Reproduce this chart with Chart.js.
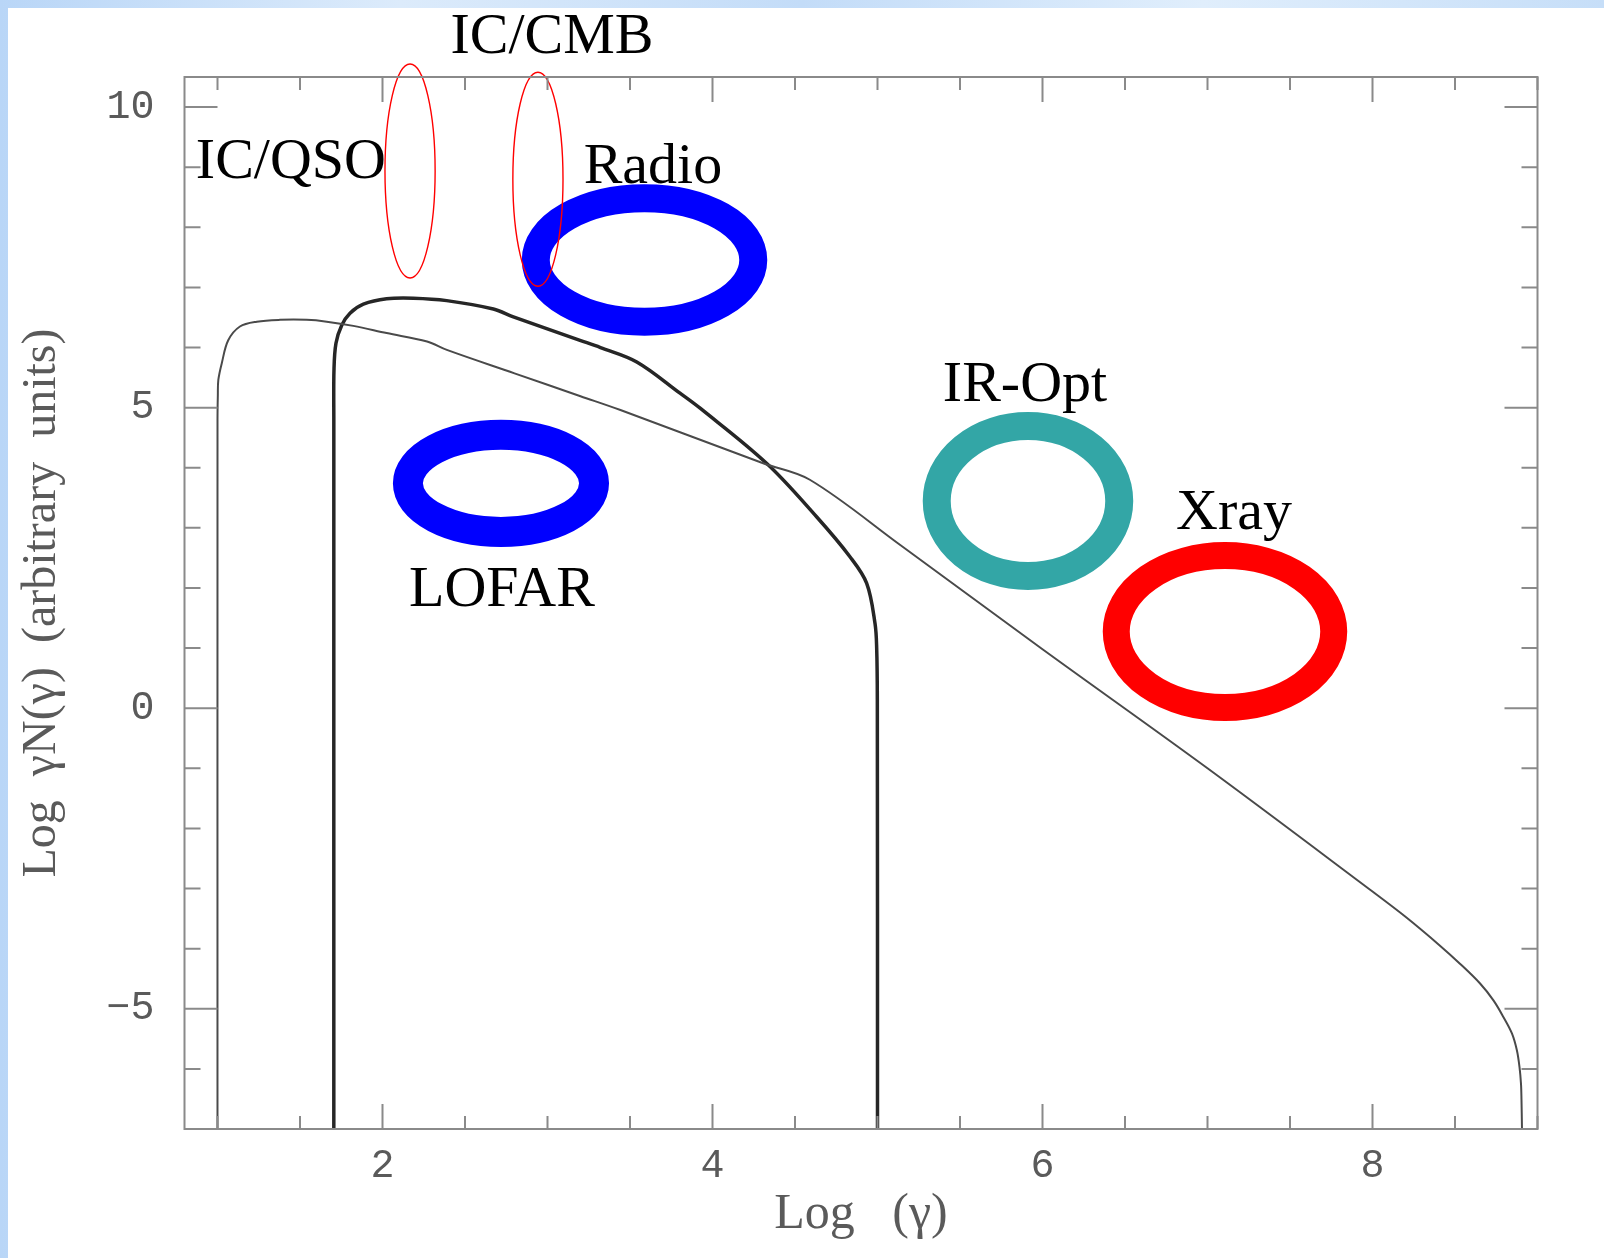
<!DOCTYPE html>
<html><head><meta charset="utf-8">
<script src="https://cdn.jsdelivr.net/npm/chart.js@4.4.1/dist/chart.umd.min.js"></script>
<style>
html,body{margin:0;padding:0;width:1604px;height:1258px;overflow:hidden;}
body{background:linear-gradient(90deg,#b9d6f7 0%,#dcebfb 25%,#c3dcf8 50%,#e0eefc 75%,#c6def8 100%);}
#paper{position:absolute;left:8px;top:8px;right:0;bottom:0;background:#fff;}
#wrap{position:absolute;left:0;top:0;width:1604px;height:1258px;}
</style></head>
<body><div id="paper"></div><div id="wrap"><canvas id="c" width="1604" height="1258"></canvas></div>
<script>
// ---- data ----
const curveAx = [1.0, 1.0, 1.002, 1.005, 1.026, 1.065, 1.136, 1.238, 1.379, 1.54, 1.662, 1.823, 2.025, 2.27, 2.39, 2.8, 3.2, 3.442, 4.311, 4.59, 5.14, 6.0, 7.0, 8.0, 8.2, 8.409, 8.53, 8.652, 8.733, 8.794, 8.845, 8.875, 8.891, 8.900, 8.903, 8.906];
const curveAy = [-7.0, 4.8, 5.2, 5.46, 5.74, 6.12, 6.35, 6.43, 6.46, 6.46, 6.43, 6.36, 6.24, 6.10, 5.96, 5.57, 5.19, 4.96, 4.07, 3.80, 2.71, 0.98, -1.0, -3.05, -3.47, -3.95, -4.25, -4.58, -4.86, -5.14, -5.41, -5.69, -5.97, -6.25, -6.52, -7.0];
const curveBx = [1.705, 1.705, 1.706, 1.718, 1.753, 1.803, 1.884, 2.025, 2.187, 2.389, 2.672, 2.793, 3.197, 3.321, 3.541, 3.803, 3.925, 4.329, 4.632, 4.833, 4.934, 4.985, 4.995, 4.999, 5.0];
const curveBy = [-7.0, 4.8, 5.63, 6.07, 6.37, 6.57, 6.72, 6.81, 6.82, 6.78, 6.64, 6.51, 6.12, 6.0, 5.76, 5.24, 4.99, 4.07, 3.18, 2.52, 2.08, 1.41, 1.0, 0.14, -7.0];
const xTickLabels = [2, 4, 6, 8];
const yTickLabels = [-5, 0, 5, 10];
const xRange = [0.8, 9.0];
const yRange = [-7, 10.5];
const xTitle = 'Log   (\u03b3)';
const yTitle = 'Log  \u03b3N(\u03b3)  (arbitrary  units)';

// ---- annotations (data units) ----
const ringCx = [2.718, 3.588, 5.912, 7.106];
const ringCy = [3.74, 7.456, 3.446, 1.275];
const ringRx = [0.564, 0.659, 0.553, 0.659];
const ringRy = [0.807, 1.028, 1.248, 1.264];
const ringColor = ['#0000ff', '#0000ff', '#33a6a6', '#ff0000'];
const ringWidth = [30, 28, 28, 27];
const thinCx = [2.167, 2.942];
const thinCy = [8.936, 8.80];
const thinRx = [0.152, 0.152];
const thinRy = [1.78, 1.78];
const labelText = ['IC/CMB', 'IC/QSO', 'Radio', 'LOFAR', 'IR-Opt', 'Xray'];
const labelX = [3.027, 1.445, 3.639, 2.724, 5.894, 7.161];
const labelY = [10.9, 8.82, 8.737, 1.70, 5.11, 2.98];

const toPts = (xs, ys) => xs.map((x, i) => ({x: x, y: ys[i]}));
const axisGray = '#8a8a8a';
const textGray = '#5a5a5a';

const framePlugin = {
  id: 'frame',
  afterDatasetsDraw(chart) {
    const ctx = chart.ctx, xs = chart.scales.x, ys = chart.scales.y;
    ctx.save();
    ringCx.forEach((cx, i) => {
      const px = xs.getPixelForValue(cx), py = ys.getPixelForValue(ringCy[i]);
      const rx = xs.getPixelForValue(cx + ringRx[i]) - px;
      const ry = py - ys.getPixelForValue(ringCy[i] + ringRy[i]);
      ctx.beginPath();
      ctx.ellipse(px, py, rx, ry, 0, 0, Math.PI * 2);
      ctx.strokeStyle = ringColor[i];
      ctx.lineWidth = ringWidth[i];
      ctx.stroke();
    });
    thinCx.forEach((cx, i) => {
      const px = xs.getPixelForValue(cx), py = ys.getPixelForValue(thinCy[i]);
      const rx = xs.getPixelForValue(cx + thinRx[i]) - px;
      const ry = py - ys.getPixelForValue(thinCy[i] + thinRy[i]);
      ctx.beginPath();
      ctx.ellipse(px, py, rx, ry, 0, 0, Math.PI * 2);
      ctx.strokeStyle = '#ff0000';
      ctx.lineWidth = 1.4;
      ctx.stroke();
    });
    ctx.restore();
  },
  afterDraw(chart) {
    const ctx = chart.ctx, a = chart.chartArea, xs = chart.scales.x, ys = chart.scales.y;
    ctx.save();
    ctx.strokeStyle = axisGray;
    ctx.lineWidth = 2;
    ctx.strokeRect(a.left, a.top, a.right - a.left, a.bottom - a.top);
    ctx.beginPath();
    for (let v = 1.0; v <= xRange[1] + 1e-9; v += 0.5) {
      const px = xs.getPixelForValue(v);
      const len = xTickLabels.includes(v) ? 25 : 13;
      ctx.moveTo(px, a.bottom); ctx.lineTo(px, a.bottom - len);
      ctx.moveTo(px, a.top); ctx.lineTo(px, a.top + len);
    }
    for (let v = yRange[0] + 1; v <= 10; v += 1) {
      const py = ys.getPixelForValue(v);
      const len = yTickLabels.includes(v) ? 33 : 16;
      ctx.moveTo(a.left, py); ctx.lineTo(a.left + len, py);
      ctx.moveTo(a.right, py); ctx.lineTo(a.right - len, py);
    }
    ctx.stroke();
    ctx.fillStyle = '#000';
    ctx.font = '58px "Liberation Serif", "Times New Roman", serif';
    ctx.textAlign = 'center';
    ctx.textBaseline = 'alphabetic';
    labelText.forEach((t, i) => {
      ctx.fillText(t, xs.getPixelForValue(labelX[i]), ys.getPixelForValue(labelY[i]));
    });
    ctx.restore();
  }
};

new Chart(document.getElementById('c'), {
  type: 'scatter',
  data: {
    datasets: [
      {data: toPts(curveAx, curveAy), showLine: true, borderColor: '#4a4a4a', borderWidth: 2, pointRadius: 0, tension: 0.35, fill: false},
      {data: toPts(curveBx, curveBy), showLine: true, borderColor: '#262626', borderWidth: 3.5, pointRadius: 0, tension: 0.35, fill: false}
    ]
  },
  options: {
    responsive: false,
    animation: false,
    devicePixelRatio: 1,
    layout: {padding: {left: 0, top: 77, right: 66.5, bottom: 0}},
    plugins: {legend: {display: false}, tooltip: {enabled: false}, title: {display: false}},
    scales: {
      x: {
        type: 'linear', position: 'bottom', min: xRange[0], max: xRange[1],
        grid: {display: false, drawTicks: false}, border: {display: false},
        afterBuildTicks: s => { s.ticks = xTickLabels.map(v => ({value: v})); },
        afterFit: s => { s.height = 129; },
        ticks: {autoSkip: false, maxRotation: 0, padding: 13, color: textGray,
          font: {family: '"Liberation Mono", "Courier New", monospace', size: 40},
          callback: v => String(v)},
        title: {display: true, text: xTitle, color: textGray, padding: {top: 0, bottom: 13},
          font: {family: '"Liberation Serif", "Times New Roman", serif', size: 50}}
      },
      y: {
        type: 'linear', position: 'left', min: yRange[0], max: yRange[1],
        grid: {display: false, drawTicks: false}, border: {display: false},
        afterBuildTicks: s => { s.ticks = yTickLabels.map(v => ({value: v})); },
        afterFit: s => { s.width = 184.5; },
        ticks: {autoSkip: false, padding: 30, color: textGray,
          font: {family: '"Liberation Mono", "Courier New", monospace', size: 40},
          callback: v => (v < 0 ? '\u2212' + Math.abs(v) : String(v))},
        title: {display: true, text: yTitle, color: textGray, padding: {top: 14, bottom: 0},
          font: {family: '"Liberation Serif", "Times New Roman", serif', size: 48}}
      }
    }
  },
  plugins: [framePlugin]
});
</script>
</body></html>
